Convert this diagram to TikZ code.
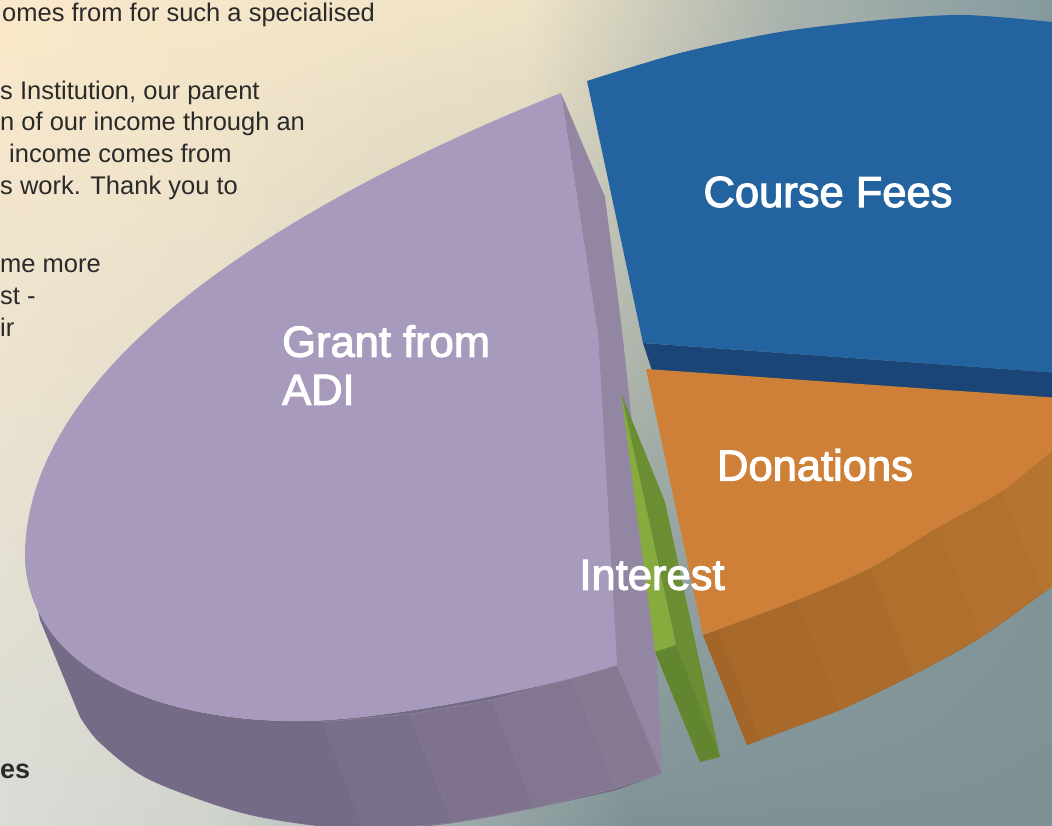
\documentclass[tikz,border=0pt]{standalone}
\usepackage{fontspec}
\setmainfont{Liberation Sans}
\newfontfamily\slicefont{Liberation Sans}[FakeBold=2.5]
\usetikzlibrary{fadings}
\definecolor{bgcream}{RGB}{251,233,202}
\definecolor{bgcreammid}{RGB}{240,228,200}
\definecolor{bggreytop}{RGB}{172,181,174}
\definecolor{bgtealtop}{RGB}{133,155,160}
\definecolor{bglightlow}{RGB}{218,220,214}
\definecolor{bggreylow}{RGB}{208,212,206}
\definecolor{bgmidlow}{RGB}{165,177,175}
\definecolor{bgteallow}{RGB}{126,146,150}
\definecolor{bodygrey}{RGB}{42,42,42}
\definecolor{grantTop}{RGB}{168,154,188}
\definecolor{grantCut}{RGB}{146,134,163}
\definecolor{grantSideA}{RGB}{118,107,134}
\definecolor{grantSideB}{RGB}{122,111,138}
\definecolor{grantSideC}{RGB}{126,114,141}
\definecolor{grantSideD}{RGB}{130,118,144}
\definecolor{grantSideE}{RGB}{134,122,147}
\definecolor{grantSeam}{RGB}{150,140,165}
\definecolor{feesTop}{RGB}{35,99,160}
\definecolor{feesSide}{RGB}{26,69,118}
\definecolor{donTop}{RGB}{207,128,56}
\definecolor{donSideA}{RGB}{163,101,40}
\definecolor{donSideB}{RGB}{168,105,42}
\definecolor{donSideC}{RGB}{171,108,43}
\definecolor{donSideD}{RGB}{175,111,45}
\definecolor{donSideE}{RGB}{178,113,47}
\definecolor{donSideF}{RGB}{181,116,48}
\definecolor{intTop}{RGB}{134,172,62}
\definecolor{intCut}{RGB}{107,142,50}
\definecolor{intSide}{RGB}{98,134,48}
\pgfdeclarehorizontalshading{bgupper}{100bp}{color(0bp)=(bgcream); color(25bp)=(bgcream); color(50bp)=(bgcreammid); color(62bp)=(bggreytop); color(75bp)=(bgtealtop); color(100bp)=(bgtealtop)}
\pgfdeclarehorizontalshading{bglower}{100bp}{color(0bp)=(bglightlow); color(25bp)=(bglightlow); color(35bp)=(bggreylow); color(45bp)=(bgmidlow); color(55bp)=(bgteallow); color(100bp)=(bgteallow)}
\tikzfading[name=bgfade, top color=transparent!0, bottom color=transparent!100]

\begin{document}
\begin{tikzpicture}[x=1pt,y=-1pt,
    bodytext/.style={anchor=base west,inner sep=0pt,text=bodygrey,font=\fontsize{25.5}{32}\selectfont},
    slicelabel/.style={text=white,inner sep=0pt,font=\slicefont\fontsize{43.5}{48}\selectfont},
    seam/.style={draw=grantSeam,line width=0.4pt}]
    \useasboundingbox (0,0) rectangle (1052,826);
    \clip (0,0) rectangle (1052,826);
    \shade[shading=bglower] (0,0) rectangle (1052,826);
    \shade[shading=bgupper,path fading=bgfade,fit fading=true] (0,0) rectangle (1052,826);
    \node[bodytext] (line1) at (2,22) {omes from for such a specialised};
    \node[bodytext] (line2) at (0,100) {s Institution, our parent};
    \node[bodytext] (line3) at (0,131) {n of our income through an};
    \node[bodytext] (line4) at (9,163) {income comes from};
    \node[bodytext] (line5) at (0,195) {s work. Thank you to};
    \node[bodytext] (line6) at (0,273) {me more};
    \node[bodytext] (line7) at (0,305) {st -};
    \node[bodytext] (line8) at (0,337) {ir};
    \node[bodytext,font=\bfseries\fontsize{27}{32}\selectfont] (line9) at (0,778) {es};
    \fill[feesSide] (643,343) -- (1060,373) -- (1060,420) -- (655,380) -- cycle;
    \fill[feesTop] plot[smooth] coordinates {(587,81) (680,53) (780,32) (880,20) (963,15) (1052,22) (1060,24)}
        -- (1060,373) -- (643,343) -- cycle;
    \fill[donSideA] plot[smooth] coordinates {(703,635) (797,600) (870,568) (937,528) (1002,491) (1060,444)}
        -- (1060,581) -- plot[smooth] coordinates {(1043,593) (980,638) (913,675) (840,710) (760,740) (747,745)} -- cycle;
    \fill[donSideA] (703,635) -- (718,630) -- (760,740) -- (747,745) -- cycle;
    \fill[donSideB] (718,630) -- (797,600) -- (840,710) -- (760,740) -- cycle;
    \fill[donSideC] (797,600) -- (870,568) -- (913,675) -- (840,710) -- cycle;
    \fill[donSideD] (870,568) -- (937,528) -- (980,638) -- (913,675) -- cycle;
    \fill[donSideE] (937,528) -- (1002,491) -- (1043,593) -- (980,638) -- cycle;
    \fill[donSideF] (1002,491) -- (1060,444) -- (1060,581) -- (1043,593) -- cycle;
    \fill[donTop] (646,369) -- (1060,398) -- (1060,444)
        -- plot[smooth] coordinates {(1060,444) (1002,491) (937,528) (870,568) (797,600) (703,635)} -- cycle;
    \fill[grantSideA] (25,552) .. controls (25,670) and (160,722) .. (300,721)
        .. controls (380,721) and (540,690) .. (617,665) -- (662,773)
        -- plot[smooth] coordinates {(617,790) (535,808) (453,823) (363,830) (250,815) (150,780) (100,743) (80,717)}
        -- (40,620) -- cycle;
    \fill[grantSideB,seam] (322,722) -- (410,714) -- (453,823) -- (363,830);
    \fill[grantSideC,seam] (410,714) -- (492,700) -- (535,808) -- (453,823);
    \fill[grantSideD,seam] (492,700) -- (573,678) -- (615,788) -- (535,808);
    \fill[grantSideE,seam] (573,678) -- (617,665) -- (662,773) -- (615,788);
    \fill[grantCut] (561,93) -- (605,197) -- (622,330) -- (640,497) -- (657,663) -- (662,773) -- (617,665) -- (598,335) -- cycle;
    \fill[grantTop] (561,93) .. controls (380,165) and (30,330) .. (25,552)
        .. controls (25,670) and (160,722) .. (300,721)
        .. controls (380,721) and (540,690) .. (617,665) -- (598,335) -- cycle;
    \fill[intCut] (621,393) -- (665,502) -- (720,757) -- (676,645) -- cycle;
    \fill[intTop] (621,393) -- (676,645) -- (655,652) -- cycle;
    \fill[intSide] (655,652) -- (676,645) -- (720,757) -- (700,762) -- cycle;
    \node[slicelabel,anchor=west,align=left] (grant) at (282,365) {Grant from\\ADI};
    \node[slicelabel] (fees) at (828,192) {Course Fees};
    \node[slicelabel] (donations) at (815,465) {Donations};
    \node[slicelabel] (interest) at (652,575) {Interest};
\end{tikzpicture}
\end{document}
